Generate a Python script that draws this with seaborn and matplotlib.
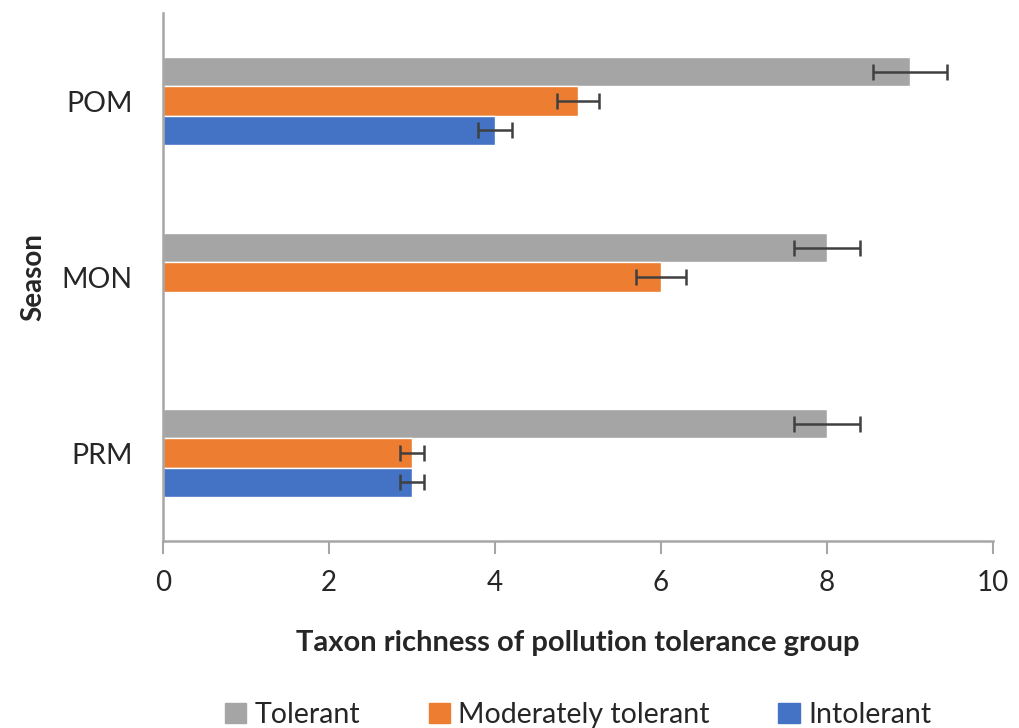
import matplotlib
matplotlib.use("Agg")
import matplotlib.pyplot as plt
import seaborn as sns
import pandas as pd
import numpy as np

seasons = ["POM", "MON", "PRM"]
groups = ["Tolerant", "Moderately tolerant", "Intolerant"]
tolerant = [9, 8, 8]
moderately_tolerant = [5, 6, 3]
intolerant = [4, 0, 3]
tolerant_err = [0.45, 0.4, 0.4]
moderately_tolerant_err = [0.25, 0.3, 0.15]
intolerant_err = [0.2, 0.0, 0.15]
x_ticks = [0, 2, 4, 6, 8, 10]

colors = ["#A5A5A5", "#ED7D31", "#4472C4"]

rows = []
for g, vals, errs in zip(groups, [tolerant, moderately_tolerant, intolerant],
                         [tolerant_err, moderately_tolerant_err, intolerant_err]):
    for s, v, e in zip(seasons, vals, errs):
        rows.append({"Season": s, "Group": g, "Value": v, "Err": e})
df = pd.DataFrame(rows)

sns.set_style("white")
plt.rcParams["font.family"] = ["Lato", "DejaVu Sans"]

fig = plt.figure(figsize=(10.19, 7.28), dpi=100)
ax = fig.add_axes([163 / 1019, 1 - 541 / 728, (993 - 163) / 1019, (541 - 13) / 728])

sns.barplot(data=df, y="Season", x="Value", hue="Group", order=seasons,
            hue_order=groups, palette=colors, orient="h", width=0.5,
            errorbar=None, saturation=1, ax=ax, legend=True)

# error bars from the bar containers
for cont, g in zip(ax.containers, groups):
    sub = df[df["Group"] == g].set_index("Season").loc[seasons]
    for bar, v, e in zip(cont.patches, sub["Value"], sub["Err"]):
        if e <= 0:
            continue
        yc = bar.get_y() + bar.get_height() / 2
        ax.errorbar(v, yc, xerr=e, fmt="none", ecolor="#404040",
                    elinewidth=1.8, capsize=6, capthick=1.8, zorder=5)

ax.set_xlim(0, 10)
ax.set_ylim(2.5, -0.5)
ax.set_xticks(x_ticks)
ax.set_xticklabels([str(t) for t in x_ticks], fontsize=20)
ax.tick_params(axis="y", length=0, labelsize=20.5, pad=22)
ax.tick_params(axis="x", length=9, width=1.5, color="#A6A6A6", labelsize=20, pad=12, direction="out")
ax.xaxis.set_ticks_position("bottom")
for side in ["top", "right"]:
    ax.spines[side].set_visible(False)
for side in ["left", "bottom"]:
    ax.spines[side].set_color("#A6A6A6")
    ax.spines[side].set_linewidth(1.8)

ax.set_xlabel("Taxon richness of pollution tolerance group", fontsize=21,
              fontweight="bold", labelpad=24)
ax.set_ylabel("Season", fontsize=20, fontweight="bold", labelpad=11)

leg = ax.get_legend()
if leg is not None:
    leg.remove()
handles = [plt.Rectangle((0, 0), 1, 1, color=c) for c in colors]
fig.legend(handles, groups, loc="center", bbox_to_anchor=(578 / 1019, 1 - 715 / 728),
           ncol=3, frameon=False, fontsize=20.5, handlelength=0.75, handleheight=0.75,
           handletextpad=0.3, columnspacing=2.4)

fig.savefig("out.png", dpi=100)
